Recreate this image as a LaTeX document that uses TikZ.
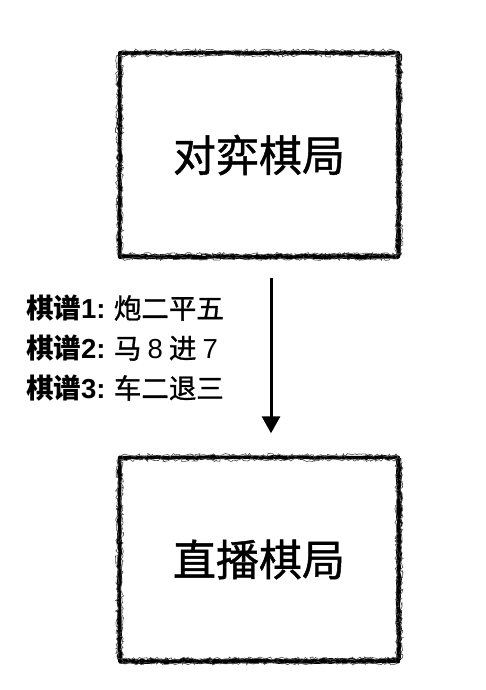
\documentclass[tikz,border=0pt]{standalone}
\usepackage{fontspec}
\setmainfont{Noto Sans CJK SC}
\newfontfamily\cjk{Noto Sans CJK SC}
\newfontfamily\cjkmed[FakeBold=1.1]{Noto Sans CJK SC}
\newfontfamily\lat{Liberation Sans}
\usetikzlibrary{arrows.meta,decorations.pathmorphing}
\tikzset{
  boxnode/.style={minimum width=278pt, minimum height=204pt, inner sep=0pt, font=\cjkmed\fontsize{43}{50}\selectfont},
  brushA/.style={line width=3.6pt, decorate, decoration={random steps, segment length=5pt, amplitude=0.6pt}, line join=round},
  brushB/.style={line width=1.4pt, decorate, decoration={random steps, segment length=3pt, amplitude=1.3pt}, line join=round},
  brushC/.style={line width=0.6pt, black!70, decorate, decoration={random steps, segment length=2pt, amplitude=1.8pt}},
  flowarrow/.style={line width=3pt, -{Triangle[width=18pt,length=17pt]}},
  labeltext/.style={anchor=west, align=left, inner sep=0pt, font=\cjkmed\fontsize{27.5}{40}\selectfont}
}
\newcommand{\roughframe}[1]{%
  \draw[brushA] (#1.north west) rectangle (#1.south east);
  \draw[brushB] ([shift={(-1.2pt,-1pt)}]#1.north west) rectangle ([shift={(1.5pt,1.8pt)}]#1.south east);
  \draw[brushB] ([shift={(1pt,1pt)}]#1.south west) -- ([shift={(2pt,2.5pt)}]#1.south east) -- ([shift={(2.5pt,-1pt)}]#1.north east);
  \draw[brushC] ([shift={(-2.5pt,-2.5pt)}]#1.north west) rectangle ([shift={(3pt,3pt)}]#1.south east);
  \draw[brushC] ([shift={(2pt,2pt)}]#1.north west) rectangle ([shift={(-1.5pt,-1.5pt)}]#1.south east);
}
\newcommand{\pu}[1]{{\cjk\bfseries 棋谱{\lat\bfseries #1:}}}
\begin{document}
\begin{tikzpicture}[x=1pt,y=-1pt]
\pgfmathsetseed{7}
\useasboundingbox (0,0) rectangle (486,690);
\node[boxnode] (top) at (259,155) {对弈棋局};
\node[boxnode] (bot) at (259,559.5) {直播棋局};
\roughframe{top}
\roughframe{bot}
\draw[flowarrow] ([shift={(12pt,-21pt)}]top.south) -- ([shift={(12pt,24pt)}]bot.north);
\node[labeltext] (notes) at (26,348) {\pu{1} 炮二平五\\\pu{2} 马 {\lat 8} 进 {\lat 7}\\\pu{3} 车二退三};
\end{tikzpicture}
\end{document}
